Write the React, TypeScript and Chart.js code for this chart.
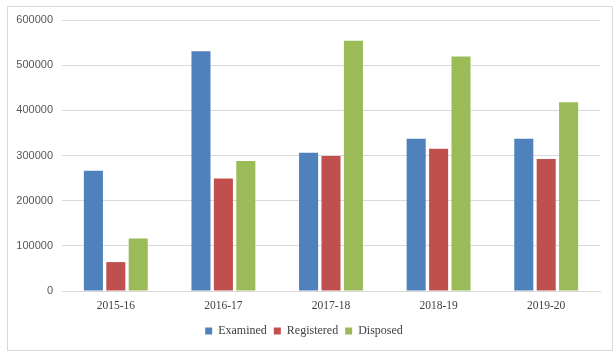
import React, { useEffect, useRef } from "react";
import { Chart, registerables } from "chart.js";

Chart.register(...registerables);

const categories = ["2015-16", "2016-17", "2017-18", "2018-19", "2019-20"];
const examined = [266000, 531000, 306000, 337000, 337000];
const registered = [64000, 249000, 299000, 315000, 292000];
const disposed = [116000, 288000, 554000, 519000, 418000];
const seriesNames = ["Examined", "Registered", "Disposed"];
const seriesColors = ["#4F81BD", "#C0504D", "#9BBB59"];

export default function App() {
  const ref = useRef<HTMLCanvasElement | null>(null);

  useEffect(() => {
    if (!ref.current) return;
    const values = [examined, registered, disposed];
    const chart = new Chart(ref.current, {
      type: "bar",
      data: {
        labels: categories,
        datasets: values.map((v, i) => ({
          label: seriesNames[i],
          data: v,
          backgroundColor: seriesColors[i],
          borderWidth: 0,
          categoryPercentage: 0.625,
          barPercentage: 0.85,
        })),
      },
      options: {
        animation: false,
        responsive: false,
        devicePixelRatio: 1,
        layout: { padding: { left: 0, right: 12, top: 13, bottom: 3 } },
        plugins: {
          tooltip: { enabled: false },
          legend: {
            position: "bottom",
            labels: {
              boxWidth: 7,
              boxHeight: 7,
              padding: 7,
              color: "#404040",
              font: { family: "'Liberation Serif', serif", size: 12 },
            },
          },
        },
        scales: {
          x: {
            afterFit: (scale: any) => {
              scale.height = 27;
            },
            grid: { display: false, drawTicks: false },
            border: { display: true, color: "#d9d9d9", width: 1 },
            ticks: {
              padding: 8,
              color: "#404040",
              font: { family: "'Liberation Serif', serif", size: 11.5 },
            },
          },
          y: {
            min: 0,
            max: 600000,
            afterFit: (scale: any) => {
              scale.width = 54;
              scale.paddingTop = 0;
              scale.paddingBottom = 0;
            },
            grid: { color: "#d9d9d9", drawTicks: false },
            border: { display: false },
            ticks: {
              stepSize: 100000,
              padding: 9,
              color: "#595959",
              font: { family: "'Liberation Sans', sans-serif", size: 11 },
              callback: (v: any) => String(v),
            },
          },
        },
      },
    });
    return () => chart.destroy();
  }, []);

  return (
    <div
      style={{
        position: "absolute",
        left: 7,
        top: 6,
        width: 606,
        height: 345,
        border: "1px solid #d9d9d9",
        boxSizing: "border-box",
        background: "#fff",
      }}
    >
      <canvas ref={ref} width={604} height={343} style={{ display: "block" }} />
    </div>
  );
}
